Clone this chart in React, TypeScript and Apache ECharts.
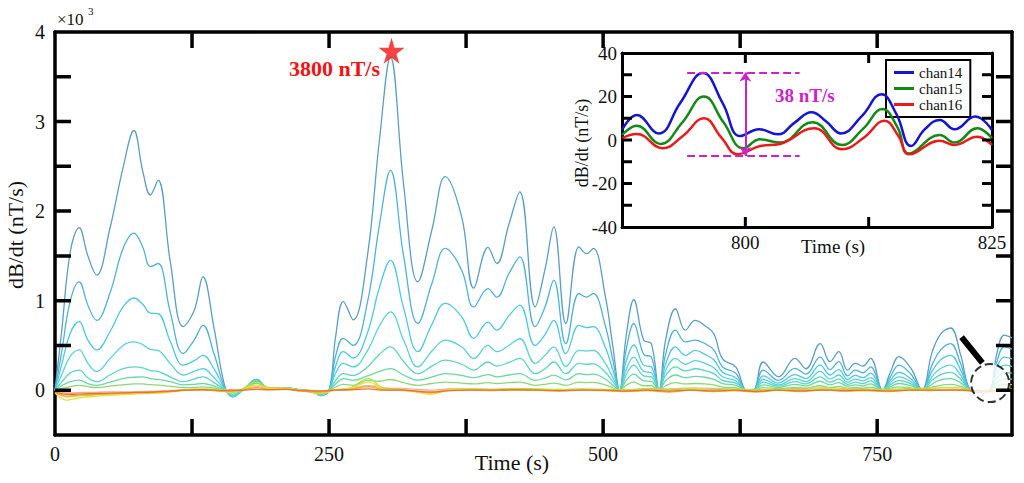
import React, { useEffect, useRef } from 'react';
import * as echarts from 'echarts';

// main panel: time stamps (s) shared by the upper channels
const T = [
  0, 6, 14, 22, 30, 38, 50, 62, 72, 80,
  87, 94, 105, 117, 127, 135, 145, 155, 162, 172,
  184, 195, 210, 225, 236, 242, 250, 256, 263, 272,
  285, 296, 306, 318, 331, 344, 356, 371, 382, 395,
  403, 414, 424, 438, 447, 455, 466, 478, 485, 491,
  502, 509, 515, 521, 528, 537, 544, 551, 557, 566,
  575, 584, 593, 601, 609, 621, 631, 637, 646, 660,
  675, 685, 698, 707, 715, 723, 730, 737, 744, 755,
  762, 770, 781, 791, 800, 808, 817, 826, 835, 844,
  853, 859, 866, 873,
];

const CH1 = [
  0, 650, 1550, 1815, 1500, 1285, 1800, 2480, 2900, 2450,
  2180, 2345, 1450, 710, 890, 1265, 700, 40, -70, 10,
  120, 20, 30, 0, -10, -60, 0, 600, 990, 785,
  1500, 2800, 3720, 2300, 1210, 1800, 2385, 1935, 1140, 1595,
  1415, 1850, 2215, 930, 1350, 1825, 745, 1600, 1525, 1585,
  1050, 480, 0, 600, 1010, 560, 520, 0, 560, 910,
  670, 780, 720, 630, 350, 260, 0, 0, 315, 150,
  355, 240, 520, 320, 430, 225, 300, 270, 355, 0,
  200, 375, 240, 0, 420, 630, 695, 400, 0, -30,
  0, 400, 615, 585,
];
const CH2 = [
  0, 420, 1000, 1210, 950, 780, 1080, 1580, 1755, 1600,
  1380, 1415, 880, 410, 560, 725, 410, 25, -70, 10,
  110, 20, 25, 0, -10, -55, 0, 380, 580, 500,
  980, 1850, 2455, 1500, 745, 1200, 1585, 1340, 930, 1135,
  1040, 1300, 1490, 710, 930, 1230, 520, 1080, 1040, 1080,
  720, 330, 0, 450, 745, 400, 370, 0, 400, 670,
  540, 560, 520, 450, 260, 190, 0, 0, 225, 110,
  245, 180, 370, 230, 320, 160, 225, 195, 260, 0,
  150, 280, 175, 0, 280, 450, 520, 300, 0, -25,
  0, 310, 485, 460,
];
const CH3 = [
  0, 280, 640, 765, 560, 450, 650, 930, 1030, 960,
  860, 855, 550, 280, 330, 390, 240, 15, -75, 10,
  120, 15, 25, 0, -15, -60, 0, 270, 430, 360,
  640, 1150, 1450, 920, 430, 740, 970, 820, 580, 760,
  670, 830, 950, 500, 620, 780, 410, 725, 700, 710,
  480, 220, 0, 320, 505, 280, 260, 0, 290, 485,
  390, 445, 400, 340, 200, 140, 0, 0, 160, 80,
  175, 130, 280, 170, 230, 120, 165, 140, 190, 0,
  110, 200, 125, 0, 210, 340, 390, 230, 0, -20,
  0, 250, 370, 350,
];
const CH4 = [
  0, 170, 380, 450, 300, 210, 350, 500, 540, 510,
  455, 445, 300, 170, 210, 240, 140, 10, -70, 5,
  110, 15, 20, 0, -15, -55, 0, 190, 300, 260,
  440, 720, 875, 560, 260, 440, 560, 485, 355, 500,
  430, 500, 575, 300, 390, 485, 265, 445, 440, 445,
  300, 140, 0, 230, 370, 210, 195, 0, 220, 355,
  290, 330, 300, 250, 150, 105, 0, 0, 120, 60,
  130, 95, 210, 125, 170, 90, 125, 105, 140, 0,
  85, 150, 95, 0, 150, 245, 280, 170, 0, -15,
  0, 190, 280, 265,
];
const CH5 = [
  0, 90, 195, 225, 140, 95, 170, 240, 260, 250,
  220, 210, 150, 95, 125, 150, 85, 5, -60, 5,
  100, 10, 20, 0, -10, -50, 0, 110, 185, 165,
  260, 400, 485, 320, 185, 270, 335, 290, 225, 315,
  270, 310, 355, 185, 240, 315, 185, 300, 290, 295,
  200, 95, 0, 170, 280, 160, 150, 0, 165, 260,
  215, 240, 220, 185, 110, 80, 0, 0, 90, 45,
  95, 70, 150, 90, 125, 65, 90, 75, 105, 0,
  60, 110, 70, 0, 110, 175, 200, 125, 0, -10,
  0, 135, 200, 190,
];
const CH6 = [
  0, 50, 95, 112, 75, 55, 90, 130, 145, 150,
  130, 120, 95, 60, 65, 75, 45, 0, -45, 5,
  95, 10, 20, 0, -10, -40, 0, 70, 130, 110,
  160, 210, 242, 170, 112, 150, 186, 165, 140, 175,
  150, 170, 186, 110, 135, 168, 115, 186, 175, 180,
  125, 55, 0, 110, 180, 105, 100, 0, 105, 170,
  140, 155, 145, 120, 75, 55, 0, 0, 60, 30,
  65, 48, 100, 60, 85, 45, 60, 50, 70, 0,
  40, 75, 48, 0, 70, 115, 130, 85, 0, -8,
  0, 90, 130, 125,
];
const CH7 = [
  -10, 20, 40, 55, 40, 30, 45, 60, 70, 70,
  62, 58, 45, 30, 30, 38, 22, 0, -20, 5,
  80, 10, 15, 0, -5, -25, 0, 35, 65, 55,
  110, 100, 120, 85, 55, 75, 90, 80, 70, 85,
  75, 85, 90, 55, 65, 80, 55, 90, 85, 88,
  60, 25, 0, 55, 90, 50, 50, 0, 50, 85,
  70, 75, 70, 60, 35, 28, 0, 0, 30, 15,
  32, 24, 50, 30, 42, 22, 30, 25, 35, 0,
  20, 38, 24, 0, 35, 55, 65, 42, 0, -5,
  0, 45, 65, 62,
];

// main panel: the late channels that stay near zero
const LOW_T = [
  0, 5, 10, 16, 25, 35, 45, 60, 75, 90,
  105, 120, 135, 150, 160, 170, 184, 195, 210, 225,
  242, 255, 270, 286, 300, 315, 330, 342, 360, 380,
  400, 420, 440, 460, 480, 500, 520, 540, 560, 580,
  600, 620, 640, 660, 680, 700, 720, 740, 760, 780,
  800, 820, 840, 855, 873,
];
const CH8 = [
  -20, -50, -75, -70, -60, -55, -45, -40, -30, -25,
  -10, 10, 15, 5, -30, 10, 90, 30, 25, 0,
  -40, 0, 30, 130, 20, 10, -10, -30, 10, 15,
  10, 20, 15, 10, 15, 10, 5, 20, 15, 25,
  20, 15, 5, 15, 20, 25, 20, 15, 10, 20,
  25, 30, 0, -10, 20,
];
const CH9 = [
  -30, -80, -110, -100, -80, -70, -60, -50, -40, -35,
  -20, 0, 10, -5, -20, 5, 60, 20, 20, -5,
  -30, 0, 20, 90, 10, 0, -20, -45, 0, 5,
  0, 10, 5, -5, 5, 0, -10, 0, -15, 5,
  -10, 0, -15, 5, -10, 10, -5, 0, -10, 5,
  0, 10, -5, -15, 0,
];
const CH10 = [
  -25, -50, -65, -60, -50, -45, -40, -35, -30, -25,
  -15, 0, 5, -10, -10, 0, 30, 10, 15, -10,
  -20, 0, 10, 40, 5, 0, -15, -30, -5, 0,
  -5, 5, 0, -10, 0, -5, -15, -5, -20, 0,
  -15, -5, -20, 0, -15, 5, -10, -5, -15, 0,
  -5, 5, -10, -20, -5,
];
const CH11 = [
  -15, -35, -45, -45, -40, -38, -35, -30, -25, -20,
  -10, 0, 5, -5, -5, 0, 10, 5, 10, -5,
  -10, 0, 5, 15, 0, 0, -10, -20, -5, 0,
  0, 5, 0, -5, 0, 0, -10, 0, -10, 0,
  -8, 0, -12, 0, -8, 0, -5, 0, -8, 0,
  0, 0, -5, -10, 0,
];
const CH12 = [
  0, -20, -30, -30, -25, -25, -20, -20, -15, -12,
  -5, 5, 10, 0, 5, 5, 40, 15, 15, 0,
  -5, 5, 20, 50, 25, 20, 10, 0, 15, 15,
  10, 15, 10, 5, 10, 5, 5, 10, 5, 10,
  5, 5, 0, 5, 5, 10, 5, 5, 0, 5,
  5, 10, 0, -5, 5,
];

// axis ranges, ticks and labels
const MAIN_X_RANGE = [0, 873];
const MAIN_Y_RANGE = [-500, 4000];
const MAIN_X_TICKS = [125, 250, 375, 500, 625, 750];
const MAIN_X_LABELS = [0, 250, 500, 750];
const MAIN_Y_TICKS = [0, 500, 1000, 1500, 2000, 2500, 3000, 3500];
const MAIN_Y_LABELS = [0, 1000, 2000, 3000, 4000];
const INSET_X_RANGE = [787.5, 825];
const INSET_Y_RANGE = [-40, 40];
const INSET_X_TICKS = [800, 812.5];
const INSET_X_LABELS = [800, 825];
const INSET_Y_TICKS = [-30, -20, -10, 0, 10, 20, 30];
const INSET_Y_LABELS = [-40, -20, 0, 20, 40];

// annotations in the main panel
const PEAK = [[307, 3790]];
const PEAK_TEXT = '3800 nT/s';
const POINTER = [[827, 594], [846, 304]];
const ZOOM_SPOT = [[853, 80]];

// inset: the last three channels, 787.5 - 825 s
const CHAN14 = [
  [787.5, 4.6], [789, 11.5], [791.2, 3], [793.4, 17], [795.7, 30.8], [797.7, 17],
  [799.5, 1.8], [801.4, 5], [803.3, 2.6], [805, 8], [806.7, 12.8], [808.2, 8.5],
  [809.7, 3], [811.8, 11], [813.8, 21], [815.3, 12], [816.8, -2.8], [818.2, 5],
  [819.7, 9.2], [821.2, 4.9], [823.3, 10.8], [825, 4.6],
];
const CHAN15 = [
  [787.5, 2.3], [789, 6.5], [791.4, -1.8], [793.6, 8], [795.8, 20], [797.8, 8],
  [799.8, -3.8], [801.5, 0.3], [803.5, -1.2], [806.8, 8.2], [809.8, -2.3],
  [811.9, 5], [813.9, 14.2], [815.4, 6], [816.6, -6.2], [819.7, 2.3], [821.2, -1.2],
  [823.5, 5.4], [825, 0.8],
];
const CHAN16 = [
  [787.5, 0.8], [789, 2.8], [791.6, -3.8], [793.7, 2], [795.8, 10], [797.6, 1],
  [799.2, -6.5], [801.5, -2.8], [803.5, -1.8], [807, 5.4], [809.8, -4.3],
  [812, 1], [814.1, 8.8], [815.5, 2], [816.6, -6.6], [819.7, -0.3], [821.2, -2.3],
  [823.5, 1.5], [825, -2.3],
];
const SPAN_X = [794.1, 805.5];
const SPAN_TOP = 31;
const SPAN_BOTTOM = -7.4;
const ARROW_X = 800;
const SPAN_TEXT = '38 nT/s';

const FONT = '"Times New Roman", "Liberation Serif", serif';
const STAR = 'path://M50,0 L61,35 L98,35 L68,57 L79,91 L50,70 L21,91 L32,57 L2,35 L39,35 Z';

const MAIN_GRID = { left: 55, top: 32, width: 957, height: 403 };
const INSET_GRID = { left: 622, top: 53, width: 370, height: 174 };

const zip = (xs: number[], ys: number[]) => xs.map((x, i) => [x, ys[i]]);

// inward tick segments on all four sides, as one broken polyline in data units
const tickSegments = (
  xTicks: number[],
  yTicks: number[],
  xr: number[],
  yr: number[],
  grid: { width: number; height: number },
  len: number,
) => {
  const dx = (len * (xr[1] - xr[0])) / grid.width;
  const dy = (len * (yr[1] - yr[0])) / grid.height;
  const out: any[] = [];
  xTicks.forEach((v) => {
    out.push([v, yr[0]], [v, yr[0] + dy], [v, '-']);
    out.push([v, yr[1]], [v, yr[1] - dy], [v, '-']);
  });
  yTicks.forEach((v) => {
    out.push([xr[0], v], [xr[0] + dx, v], ['-', v]);
    out.push([xr[1], v], [xr[1] - dx, v], ['-', v]);
  });
  return out;
};

const App: React.FC = () => {
  const chartRef = useRef<HTMLDivElement>(null);

  useEffect(() => {
    if (!chartRef.current) return;
    const chart = echarts.init(chartRef.current, null, { renderer: 'svg' });

    const upper = [
      { name: 'ch1', values: CH1, color: '#5a9ec6' },
      { name: 'ch2', values: CH2, color: '#4fb2d6' },
      { name: 'ch3', values: CH3, color: '#4cc8e0' },
      { name: 'ch4', values: CH4, color: '#58d2da' },
      { name: 'ch5', values: CH5, color: '#5cd6c0' },
      { name: 'ch6', values: CH6, color: '#6ad8a0' },
      { name: 'ch7', values: CH7, color: '#8cd878' },
    ];
    const lower = [
      { name: 'ch12', values: CH12, color: '#f3a6a0' },
      { name: 'ch8', values: CH8, color: '#b5de48' },
      { name: 'ch9', values: CH9, color: '#e6e03a' },
      { name: 'ch10', values: CH10, color: '#f2ac3a' },
      { name: 'ch11', values: CH11, color: '#ea7424' },
    ];

    const mainLine = (name: string, data: number[][], color: string) => ({
      name,
      type: 'line',
      xAxisIndex: 0,
      yAxisIndex: 0,
      data,
      showSymbol: false,
      smooth: 0.4,
      lineStyle: { width: 1.3, color },
      itemStyle: { color },
    });

    // one side of a boxed frame; only bottom / left carry labels
    const frameAxis = (
      gridIndex: number,
      position: string,
      range: number[],
      labels: number[],
      lineWidth: number,
      fontSize: number,
      margin: number,
      format: (v: number) => string,
    ) => ({
      type: 'value',
      gridIndex,
      position,
      min: range[0],
      max: range[1],
      axisLine: { show: true, onZero: false, lineStyle: { color: '#000', width: lineWidth } },
      axisTick: { show: false },
      axisLabel: {
        show: position === 'bottom' || position === 'left',
        customValues: labels,
        margin,
        fontSize,
        color: '#111',
        fontFamily: FONT,
        formatter: format,
      },
      splitLine: { show: false },
    });

    const tickLine = (axisIndex: number, data: any[], width: number) => ({
      type: 'line',
      xAxisIndex: axisIndex,
      yAxisIndex: axisIndex,
      data,
      showSymbol: false,
      connectNulls: false,
      clip: false,
      lineStyle: { width, color: '#000', cap: 'butt' },
      z: 7,
    });

    const plain = (v: number) => String(v);
    const thousands = (v: number) => String(v / 1000);

    const magenta = '#cc22cc';

    const insetLine = (name: string, data: number[][], color: string, extra: object = {}) => ({
      name,
      type: 'line',
      xAxisIndex: 2,
      yAxisIndex: 2,
      data,
      showSymbol: false,
      smooth: 0.45,
      lineStyle: { width: 2.5, color },
      itemStyle: { color },
      z: 4,
      ...extra,
    });

    const text = (x: number, y: number, t: string, size: number, extra: any = {}, rotation = 0) => ({
      type: 'text',
      x,
      y,
      rotation,
      style: {
        text: t,
        fontSize: size,
        fontFamily: FONT,
        fill: '#111',
        textAlign: 'center',
        textVerticalAlign: 'middle',
        ...extra,
      },
    });

    const option: any = {
      animation: false,
      grid: [MAIN_GRID, INSET_GRID],
      xAxis: [
        frameAxis(0, 'bottom', MAIN_X_RANGE, MAIN_X_LABELS, 3.5, 20, 9, plain),
        frameAxis(0, 'top', MAIN_X_RANGE, MAIN_X_LABELS, 3.5, 20, 9, plain),
        frameAxis(1, 'bottom', INSET_X_RANGE, INSET_X_LABELS, 3, 19, 6, plain),
        frameAxis(1, 'top', INSET_X_RANGE, INSET_X_LABELS, 3, 19, 6, plain),
      ],
      yAxis: [
        frameAxis(0, 'left', MAIN_Y_RANGE, MAIN_Y_LABELS, 3.5, 20, 10, thousands),
        frameAxis(0, 'right', MAIN_Y_RANGE, MAIN_Y_LABELS, 3.5, 20, 10, thousands),
        frameAxis(1, 'left', INSET_Y_RANGE, INSET_Y_LABELS, 3, 19, 5, plain),
        frameAxis(1, 'right', INSET_Y_RANGE, INSET_Y_LABELS, 3, 19, 5, plain),
      ],
      legend: {
        data: ['chan14', 'chan15', 'chan16'],
        orient: 'vertical',
        left: 886,
        top: 60,
        icon: 'rect',
        itemWidth: 20,
        itemHeight: 3,
        itemGap: 1,
        padding: [5, 8, 5, 8],
        borderColor: '#000',
        borderWidth: 2,
        textStyle: { fontFamily: FONT, fontSize: 15, lineHeight: 13, color: '#111' },
        selectedMode: false,
      },
      series: [
        ...upper.map((c) => mainLine(c.name, zip(T, c.values), c.color)),
        ...lower.map((c) => mainLine(c.name, zip(LOW_T, c.values), c.color)),
        tickLine(0, tickSegments(MAIN_X_TICKS, MAIN_Y_TICKS, MAIN_X_RANGE, MAIN_Y_RANGE, MAIN_GRID, 16), 3.5),
        tickLine(2, tickSegments(INSET_X_TICKS, INSET_Y_TICKS, INSET_X_RANGE, INSET_Y_RANGE, INSET_GRID, 10), 3),
        {
          name: 'peak',
          type: 'scatter',
          xAxisIndex: 0,
          yAxisIndex: 0,
          data: PEAK,
          symbol: STAR,
          symbolSize: 26,
          itemStyle: { color: '#f01414' },
          z: 6,
        },
        {
          name: 'pointer',
          type: 'line',
          xAxisIndex: 0,
          yAxisIndex: 0,
          data: POINTER,
          showSymbol: false,
          lineStyle: { width: 6, color: '#000' },
          z: 6,
        },
        {
          name: 'spot',
          type: 'scatter',
          xAxisIndex: 0,
          yAxisIndex: 0,
          data: ZOOM_SPOT,
          symbol: 'emptyCircle',
          symbolSize: 38,
          itemStyle: { color: '#000', borderColor: '#000', borderWidth: 2.5, borderType: 'dashed' },
          z: 6,
        },
        insetLine('chan14', CHAN14, '#1414d2'),
        insetLine('chan15', CHAN15, '#138a13', {
          markLine: {
            silent: true,
            symbol: ['none', 'none'],
            label: { show: false },
            lineStyle: { type: 'dashed', color: magenta, width: 2 },
            data: [
              [{ coord: [SPAN_X[0], SPAN_TOP] }, { coord: [SPAN_X[1], SPAN_TOP] }],
              [{ coord: [SPAN_X[0], SPAN_BOTTOM] }, { coord: [SPAN_X[1], SPAN_BOTTOM] }],
            ],
          },
        }),
        insetLine('chan16', CHAN16, '#ea1a1a', {
          markLine: {
            silent: true,
            symbol: ['arrow', 'arrow'],
            symbolSize: 9,
            label: { show: false },
            lineStyle: { type: 'solid', color: magenta, width: 2 },
            data: [[{ coord: [ARROW_X, SPAN_BOTTOM] }, { coord: [ARROW_X, SPAN_TOP] }]],
          },
        }),
      ],
      graphic: [
        text(57, 19, '×10', 17, { textAlign: 'left' }),
        text(88, 11, '3', 11, { textAlign: 'left' }),
        text(15, 235, 'dB/dt (nT/s)', 22, {}, Math.PI / 2),
        text(512, 462, 'Time (s)', 22),
        text(380, 68, PEAK_TEXT, 22, { fontWeight: 'bold', fill: '#f01414', textAlign: 'right' }),
        text(582, 143, 'dB/dt (nT/s)', 18, {}, Math.PI / 2),
        text(833, 246, 'Time (s)', 19),
        text(775, 95, SPAN_TEXT, 19, { fontWeight: 'bold', fill: magenta, textAlign: 'left' }),
      ],
    };

    chart.setOption(option);

    return () => {
      chart.dispose();
    };
  }, []);

  return (
    <div
      ref={chartRef}
      style={{ position: 'absolute', left: 0, top: 0, width: '1024px', height: '483px' }}
    />
  );
};

export default App;
